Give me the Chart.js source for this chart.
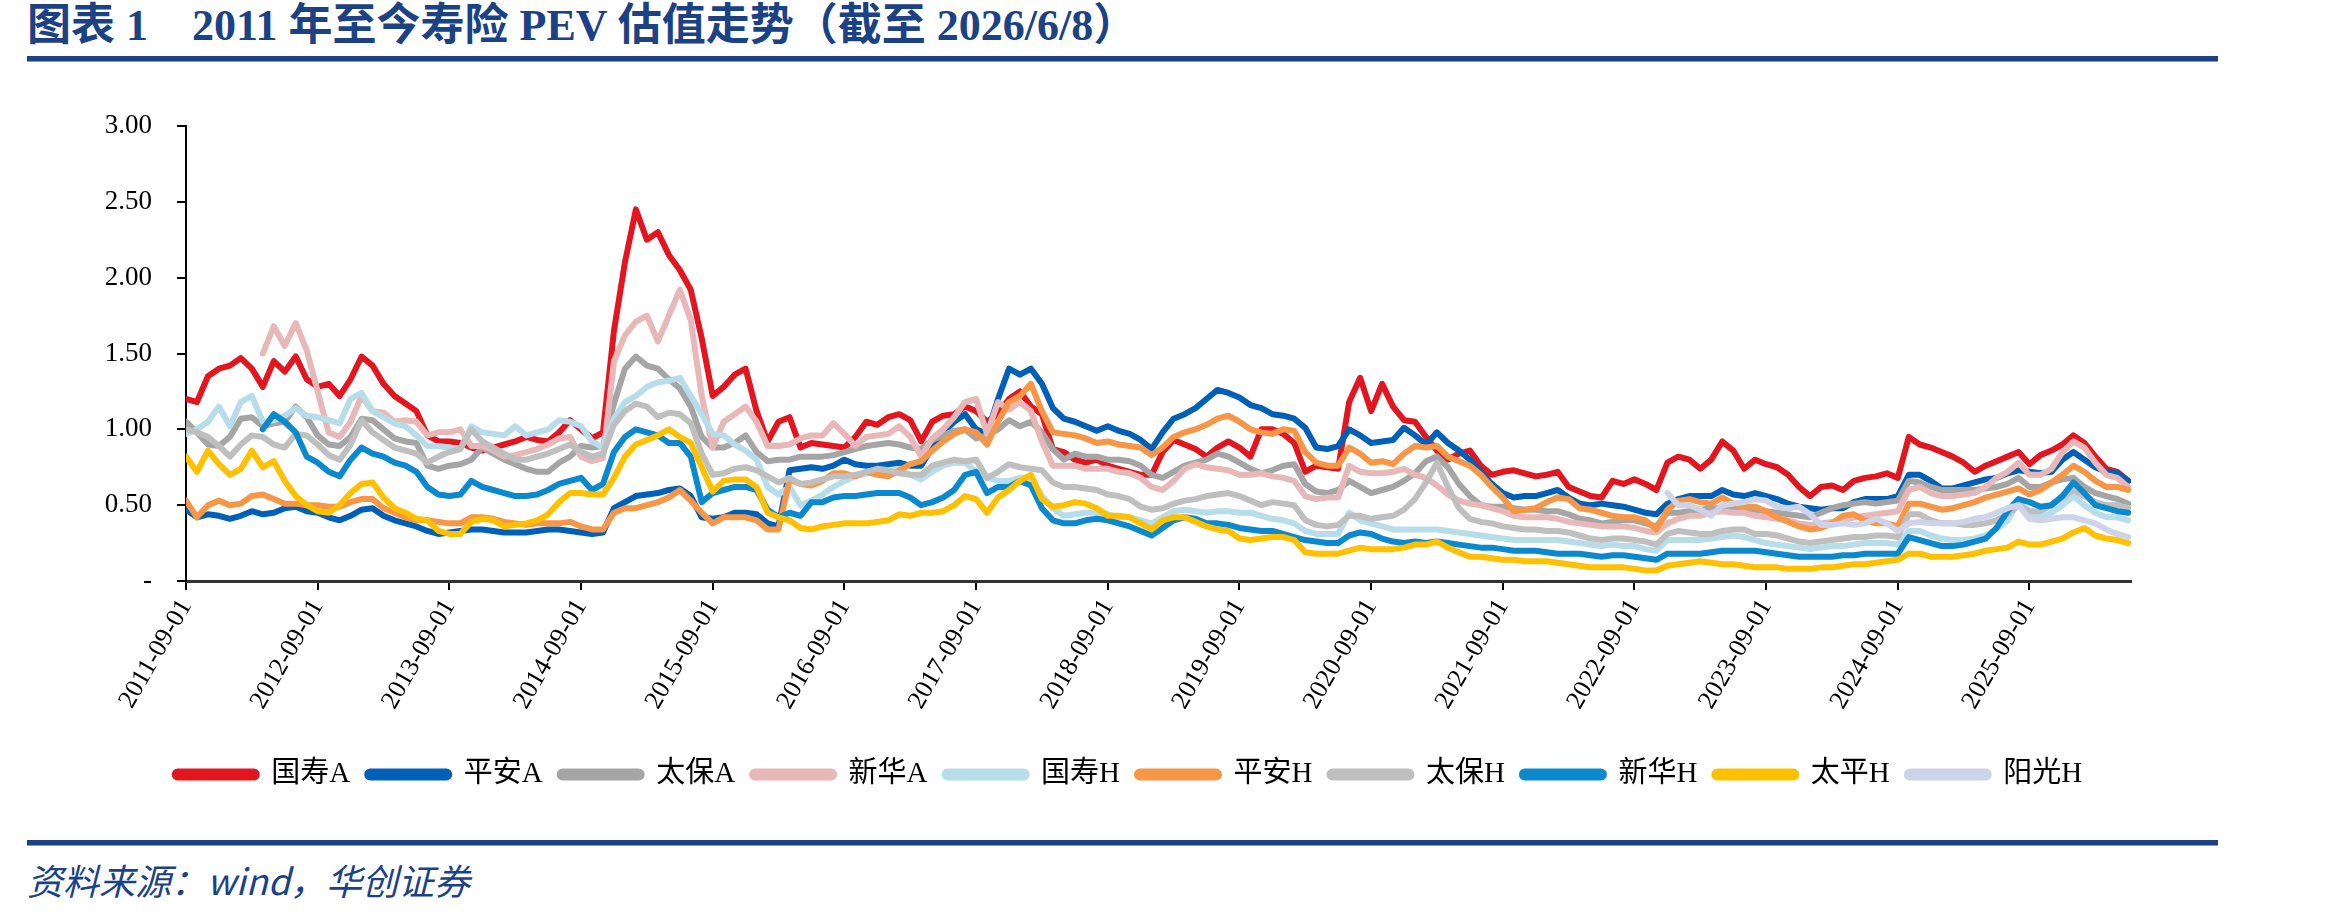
<!DOCTYPE html>
<html lang="zh-CN">
<head>
  <meta charset="UTF-8">
  <script src="https://cdn.jsdelivr.net/npm/chart.js@4.4.0/dist/chart.umd.min.js"></script>
  <style>
    body { margin: 0; background: #fff; width: 2327px; height: 913px; position: relative; overflow: hidden; }
    #title { position: absolute; left: 27px; top: 1px; line-height: 50px; font: bold 44px/50px "Liberation Serif", "Noto Sans CJK SC", serif; color: #1b4285; white-space: pre; }
    .rule { position: absolute; left: 27px; width: 2191px; height: 5px; background: #1b4285; border-bottom: 1px solid #7f9cc8; }
    #source { position: absolute; left: 27px; top: 858px; font: italic 36px/42px "Noto Sans CJK SC", sans-serif; color: #1b4285; }
    #box { position: absolute; left: 0; top: 70px; width: 2327px; height: 740px; }
  </style>
</head>
<body>
  <div id="title">图表 1    2011 年至今寿险 PEV 估值走势（截至 2026/6/8）</div>
  <div class="rule" style="top:56px"></div>
  <div id="box"><canvas id="pev"></canvas></div>
  <div class="rule" style="top:840px"></div>
  <div id="source">资料来源：wind，华创证券</div>
  <script>
    // monthly points, index 0 = 2011-09 ... 177 = 2026-06
    const xLabels = ['2011-09-01', '2012-09-01', '2013-09-01', '2014-09-01', '2015-09-01',
      '2016-09-01', '2017-09-01', '2018-09-01', '2019-09-01', '2020-09-01',
      '2021-09-01', '2022-09-01', '2023-09-01', '2024-09-01', '2025-09-01'];
    const yLabels = ['-', '0.50', '1.00', '1.50', '2.00', '2.50', '3.00'];
    const names = ['国寿A', '平安A', '太保A', '新华A', '国寿H', '平安H', '太保H', '新华H', '太平H', '阳光H'];
    const colors = ['#e3151f', '#0060b8', '#a5a5a5', '#e8b7b8', '#b6dde9', '#f79646', '#bfbfbf', '#0a89cf', '#ffc000', '#cdd3e8'];
    const starts = [0, 0, 0, 7, 0, 0, 0, 7, 0, 135];

    const gsA = [1.20, 1.18, 1.35, 1.40, 1.42, 1.47, 1.40, 1.28, 1.45, 1.38, 1.48, 1.33,
      1.28, 1.30, 1.22, 1.33, 1.48, 1.42, 1.30, 1.22, 1.17, 1.12, 0.96, 0.92,
      0.92, 0.91, 0.88, 0.86, 0.88, 0.90, 0.92, 0.95, 0.93, 0.92, 0.98, 1.06,
      1.00, 0.94, 0.98, 1.65, 2.10, 2.45, 2.25, 2.30, 2.15, 2.05, 1.92, 1.60,
      1.22, 1.28, 1.36, 1.40, 1.12, 0.92, 1.05, 1.08, 0.88, 0.91, 0.90, 0.89,
      0.88, 0.95, 1.05, 1.03, 1.08, 1.10, 1.06, 0.92, 1.05, 1.09, 1.10, 1.15,
      1.12, 1.05, 1.10, 1.20, 1.25, 1.15, 1.10, 0.87, 0.85, 0.80, 0.78, 0.80,
      0.76, 0.74, 0.72, 0.70, 0.70, 0.85, 0.93, 0.90, 0.87, 0.82, 0.88, 0.92,
      0.88, 0.82, 1.00, 1.00, 0.97, 0.91, 0.72, 0.76, 0.75, 0.74, 1.18, 1.34,
      1.12, 1.30, 1.15, 1.06, 1.05, 0.95, 0.86, 0.80, 0.84, 0.86, 0.76, 0.70,
      0.72, 0.73, 0.71, 0.69, 0.70, 0.72, 0.62, 0.59, 0.56, 0.55, 0.66, 0.64,
      0.67, 0.64, 0.60, 0.78, 0.82, 0.80, 0.74, 0.80, 0.92, 0.86, 0.74, 0.80,
      0.77, 0.75, 0.70, 0.62, 0.56, 0.62, 0.63, 0.60, 0.66, 0.68, 0.69, 0.71,
      0.68, 0.95, 0.90, 0.88, 0.85, 0.82, 0.78, 0.72, 0.76, 0.79, 0.82, 0.85,
      0.77, 0.83, 0.86, 0.90, 0.96, 0.91, 0.82, 0.74, 0.72, 0.66];
    const paA = [0.47, 0.42, 0.44, 0.43, 0.41, 0.43, 0.46, 0.44, 0.45, 0.48, 0.49, 0.46,
      0.45, 0.42, 0.40, 0.43, 0.47, 0.48, 0.43, 0.40, 0.38, 0.36, 0.33, 0.31,
      0.32, 0.33, 0.34, 0.34, 0.33, 0.32, 0.32, 0.32, 0.33, 0.34, 0.34, 0.33,
      0.32, 0.31, 0.32, 0.48, 0.52, 0.56, 0.57, 0.58, 0.60, 0.61, 0.56, 0.42,
      0.41, 0.42, 0.45, 0.45, 0.44, 0.38, 0.36, 0.73, 0.74, 0.75, 0.74, 0.76,
      0.80, 0.77, 0.76, 0.76, 0.77, 0.78, 0.76, 0.76, 0.88, 0.98, 1.05, 1.10,
      1.00, 0.97, 1.20, 1.40, 1.36, 1.40, 1.30, 1.14, 1.07, 1.05, 1.02, 0.99,
      1.02, 0.99, 0.97, 0.93, 0.87, 0.98, 1.07, 1.10, 1.14, 1.20, 1.26, 1.24,
      1.21, 1.16, 1.14, 1.10, 1.09, 1.07, 1.01, 0.88, 0.87, 0.89, 1.00, 0.96,
      0.91, 0.92, 0.93, 1.01, 0.96, 0.90, 0.98, 0.91, 0.86, 0.80, 0.72, 0.64,
      0.58, 0.55, 0.56, 0.56, 0.58, 0.60, 0.55, 0.51, 0.50, 0.51, 0.50, 0.49,
      0.47, 0.45, 0.44, 0.51, 0.54, 0.56, 0.56, 0.56, 0.60, 0.57, 0.56, 0.58,
      0.56, 0.54, 0.51, 0.49, 0.48, 0.47, 0.48, 0.48, 0.52, 0.54, 0.54, 0.54,
      0.56, 0.70, 0.70, 0.66, 0.61, 0.61, 0.63, 0.65, 0.67, 0.68, 0.71, 0.73,
      0.72, 0.71, 0.72, 0.80, 0.85, 0.80, 0.75, 0.72, 0.71, 0.66];
    const tbA = [1.05, 0.98, 0.90, 0.89, 0.95, 1.07, 1.08, 1.02, 1.04, 1.05, 1.15, 1.08,
      0.96, 0.90, 0.89, 0.95, 1.07, 1.06, 1.00, 0.94, 0.92, 0.91, 0.76, 0.74,
      0.76, 0.77, 0.80, 0.88, 0.84, 0.80, 0.77, 0.74, 0.72, 0.72, 0.78, 0.82,
      0.89, 0.88, 0.89, 1.17, 1.40, 1.48, 1.42, 1.40, 1.33, 1.27, 1.15, 0.95,
      0.88, 0.88, 0.91, 0.96, 0.85, 0.79, 0.80, 0.80, 0.82, 0.82, 0.82, 0.83,
      0.85, 0.87, 0.89, 0.90, 0.91, 0.90, 0.88, 0.87, 0.93, 0.96, 0.99, 1.00,
      0.94, 0.96, 1.00, 1.06, 1.02, 1.05, 0.98, 0.87, 0.80, 0.84, 0.82, 0.82,
      0.80, 0.80, 0.79, 0.76, 0.70, 0.68, 0.72, 0.76, 0.78, 0.80, 0.84, 0.82,
      0.78, 0.74, 0.71, 0.73, 0.76, 0.77, 0.64, 0.59, 0.58, 0.60, 0.66, 0.62,
      0.58, 0.60, 0.62, 0.66, 0.71, 0.79, 0.82, 0.75, 0.64, 0.56, 0.50, 0.49,
      0.49, 0.48, 0.47, 0.47, 0.46, 0.46, 0.44, 0.41, 0.40, 0.38, 0.39, 0.40,
      0.40, 0.38, 0.36, 0.45, 0.45, 0.46, 0.47, 0.48, 0.48, 0.47, 0.47, 0.47,
      0.46, 0.45, 0.44, 0.43, 0.42, 0.45, 0.48, 0.50, 0.51, 0.52, 0.51, 0.52,
      0.53, 0.66, 0.65, 0.62, 0.60, 0.60, 0.60, 0.60, 0.61, 0.62, 0.64, 0.68,
      0.62, 0.62, 0.65, 0.67, 0.68, 0.62, 0.58, 0.56, 0.54, 0.51];
    // 新华A starts 2012-04
    const xhA = [1.50, 1.68, 1.55, 1.70, 1.52,
      1.25, 0.98, 0.95, 1.05, 1.22, 1.12, 1.11, 1.05, 1.06, 1.05, 0.96, 0.98,
      0.98, 1.00, 0.89, 0.89, 0.86, 0.82, 0.83, 0.85, 0.87, 0.90, 0.94, 0.95,
      0.82, 0.79, 0.81, 1.45, 1.62, 1.71, 1.75, 1.58, 1.75, 1.92, 1.72, 1.22,
      0.88, 1.05, 1.10, 1.15, 1.05, 0.89, 0.89, 0.90, 0.94, 0.96, 0.96, 1.04,
      0.97, 0.89, 0.95, 0.96, 0.97, 1.02, 0.95, 0.82, 0.94, 1.00, 1.08, 1.18,
      1.20, 0.97, 1.18, 1.13, 1.18, 1.12, 0.92, 0.76, 0.76, 0.76, 0.74, 0.74,
      0.74, 0.72, 0.71, 0.68, 0.62, 0.60, 0.66, 0.74, 0.77, 0.75, 0.74, 0.73,
      0.70, 0.70, 0.71, 0.69, 0.68, 0.66, 0.56, 0.54, 0.55, 0.55, 0.76, 0.72,
      0.71, 0.71, 0.72, 0.74, 0.70, 0.68, 0.63, 0.57, 0.53, 0.51, 0.50, 0.48,
      0.46, 0.43, 0.42, 0.42, 0.42, 0.41, 0.39, 0.38, 0.37, 0.36, 0.36, 0.36,
      0.35, 0.33, 0.32, 0.38, 0.41, 0.43, 0.43, 0.45, 0.46, 0.45, 0.45, 0.43,
      0.42, 0.41, 0.40, 0.38, 0.37, 0.38, 0.39, 0.40, 0.42, 0.43, 0.44, 0.45,
      0.46, 0.60, 0.62, 0.58, 0.56, 0.56, 0.57, 0.58, 0.62, 0.68, 0.72, 0.78,
      0.70, 0.70, 0.74, 0.85, 0.92, 0.88, 0.78, 0.70, 0.68, 0.62];
    const gsH = [0.97, 1.00, 1.05, 1.15, 1.02, 1.18, 1.22, 1.05, 1.06, 1.09, 1.14, 1.09,
      1.08, 1.06, 1.04, 1.20, 1.24, 1.12, 1.08, 1.04, 1.02, 0.96, 0.89, 0.89,
      0.88, 0.87, 1.02, 0.98, 0.97, 0.96, 1.02, 0.96, 0.98, 1.00, 1.06, 1.05,
      1.02, 0.92, 0.88, 1.07, 1.18, 1.22, 1.28, 1.31, 1.32, 1.34, 1.22, 1.10,
      0.97, 0.96, 0.90, 0.86, 0.80, 0.62, 0.57, 0.62, 0.50, 0.53, 0.57, 0.62,
      0.66, 0.69, 0.71, 0.72, 0.72, 0.74, 0.70, 0.67, 0.72, 0.76, 0.78, 0.78,
      0.72, 0.68, 0.66, 0.66, 0.68, 0.68, 0.56, 0.48, 0.43, 0.44, 0.45, 0.45,
      0.44, 0.42, 0.42, 0.40, 0.38, 0.42, 0.46, 0.47, 0.46, 0.45, 0.46, 0.46,
      0.45, 0.45, 0.43, 0.41, 0.40, 0.38, 0.33, 0.31, 0.31, 0.31, 0.45, 0.40,
      0.38, 0.36, 0.34, 0.34, 0.34, 0.34, 0.34, 0.33, 0.32, 0.31, 0.30, 0.29,
      0.28, 0.27, 0.27, 0.27, 0.27, 0.27, 0.26, 0.25, 0.24, 0.23, 0.24, 0.23,
      0.23, 0.21, 0.20, 0.27, 0.27, 0.27, 0.27, 0.28, 0.29, 0.30, 0.29, 0.27,
      0.25, 0.24, 0.23, 0.22, 0.21, 0.22, 0.23, 0.23, 0.24, 0.25, 0.25, 0.25,
      0.24, 0.33, 0.33, 0.30, 0.28, 0.27, 0.27, 0.28, 0.30, 0.34, 0.40, 0.52,
      0.45, 0.42, 0.45, 0.50, 0.56, 0.50, 0.45, 0.42, 0.42, 0.40];
    const paH = [0.53, 0.42, 0.50, 0.53, 0.50, 0.51, 0.56, 0.57, 0.54, 0.51, 0.51, 0.50,
      0.50, 0.49, 0.49, 0.52, 0.54, 0.54, 0.48, 0.45, 0.42, 0.40, 0.40, 0.39,
      0.38, 0.38, 0.42, 0.42, 0.41, 0.39, 0.38, 0.37, 0.38, 0.38, 0.38, 0.39,
      0.36, 0.34, 0.34, 0.45, 0.48, 0.48, 0.50, 0.52, 0.55, 0.60, 0.53, 0.45,
      0.38, 0.42, 0.42, 0.42, 0.40, 0.34, 0.34, 0.67, 0.64, 0.63, 0.66, 0.71,
      0.71, 0.69, 0.72, 0.70, 0.69, 0.73, 0.77, 0.79, 0.86, 0.92, 0.97, 1.00,
      0.98, 0.90, 1.05, 1.18, 1.22, 1.30, 1.12, 0.98, 0.97, 0.96, 0.94, 0.91,
      0.92, 0.90, 0.89, 0.88, 0.83, 0.88, 0.95, 0.98, 1.00, 1.03, 1.07, 1.09,
      1.05, 1.00, 0.98, 0.97, 1.00, 0.99, 0.85, 0.78, 0.76, 0.76, 0.88, 0.84,
      0.78, 0.79, 0.77, 0.84, 0.89, 0.88, 0.89, 0.82, 0.79, 0.76, 0.70, 0.62,
      0.55, 0.46, 0.47, 0.48, 0.52, 0.55, 0.54, 0.48, 0.47, 0.45, 0.43, 0.42,
      0.42, 0.40, 0.34, 0.47, 0.53, 0.54, 0.52, 0.51, 0.55, 0.51, 0.49, 0.49,
      0.46, 0.42, 0.39, 0.36, 0.34, 0.35, 0.38, 0.43, 0.44, 0.40, 0.38, 0.38,
      0.36, 0.51, 0.51, 0.49, 0.47, 0.48, 0.50, 0.52, 0.55, 0.57, 0.59, 0.61,
      0.57, 0.60, 0.65, 0.70, 0.76, 0.72, 0.66, 0.62, 0.62, 0.60];
    const tbH = [1.00, 0.98, 0.95, 0.89, 0.82, 0.90, 0.96, 0.95, 0.90, 0.88, 0.97, 0.96,
      0.90, 0.83, 0.80, 0.90, 1.06, 0.98, 0.93, 0.88, 0.86, 0.84, 0.78, 0.82,
      0.85, 0.87, 1.00, 0.92, 0.88, 0.84, 0.80, 0.80, 0.82, 0.84, 0.87, 0.90,
      0.85, 0.82, 0.84, 1.03, 1.12, 1.17, 1.15, 1.08, 1.11, 1.10, 1.04, 0.84,
      0.70, 0.71, 0.74, 0.75, 0.73, 0.69, 0.65, 0.68, 0.64, 0.65, 0.67, 0.69,
      0.69, 0.70, 0.72, 0.74, 0.73, 0.71, 0.70, 0.70, 0.76, 0.78, 0.80, 0.79,
      0.80, 0.68, 0.72, 0.77, 0.75, 0.74, 0.73, 0.65, 0.62, 0.62, 0.61, 0.60,
      0.57, 0.56, 0.54, 0.49, 0.47, 0.48, 0.51, 0.53, 0.54, 0.56, 0.57, 0.58,
      0.56, 0.53, 0.50, 0.52, 0.51, 0.50, 0.40, 0.37, 0.36, 0.37, 0.43, 0.43,
      0.41, 0.42, 0.43, 0.47, 0.54, 0.65, 0.78, 0.62, 0.48, 0.41, 0.39, 0.38,
      0.36, 0.35, 0.34, 0.34, 0.33, 0.33, 0.32, 0.30, 0.28, 0.27, 0.28, 0.28,
      0.27, 0.26, 0.24, 0.31, 0.33, 0.32, 0.31, 0.31, 0.33, 0.34, 0.34, 0.31,
      0.31, 0.30, 0.28, 0.26, 0.25, 0.26, 0.27, 0.28, 0.29, 0.29, 0.30, 0.30,
      0.29, 0.44, 0.44, 0.40, 0.38, 0.38, 0.37, 0.37, 0.38, 0.40, 0.44, 0.50,
      0.46, 0.46, 0.50, 0.55, 0.60, 0.56, 0.52, 0.50, 0.50, 0.48];
    // 新华H starts 2012-04
    const xhH = [1.00, 1.10, 1.05, 0.98, 0.82,
      0.78, 0.72, 0.69, 0.80, 0.88, 0.84, 0.82, 0.78, 0.76, 0.72, 0.62, 0.57,
      0.56, 0.57, 0.66, 0.62, 0.60, 0.58, 0.56, 0.56, 0.57, 0.60, 0.64, 0.66,
      0.68, 0.60, 0.64, 0.85, 0.95, 1.00, 0.98, 0.96, 0.91, 0.91, 0.82, 0.52,
      0.58, 0.60, 0.62, 0.62, 0.60, 0.47, 0.42, 0.45, 0.43, 0.52, 0.52, 0.55,
      0.56, 0.56, 0.57, 0.58, 0.58, 0.58, 0.55, 0.50, 0.52, 0.55, 0.60, 0.70,
      0.72, 0.58, 0.62, 0.62, 0.66, 0.63, 0.48, 0.40, 0.38, 0.38, 0.40, 0.41,
      0.40, 0.38, 0.36, 0.33, 0.30, 0.35, 0.40, 0.42, 0.41, 0.38, 0.38, 0.37,
      0.35, 0.34, 0.33, 0.33, 0.31, 0.29, 0.27, 0.26, 0.25, 0.25, 0.30, 0.32,
      0.31, 0.28, 0.26, 0.25, 0.26, 0.25, 0.26, 0.25, 0.24, 0.23, 0.22, 0.22,
      0.21, 0.20, 0.20, 0.20, 0.19, 0.18, 0.18, 0.18, 0.17, 0.16, 0.17, 0.17,
      0.16, 0.15, 0.14, 0.18, 0.18, 0.18, 0.18, 0.19, 0.20, 0.20, 0.20, 0.20,
      0.19, 0.18, 0.17, 0.16, 0.16, 0.16, 0.16, 0.17, 0.17, 0.18, 0.18, 0.18,
      0.18, 0.29, 0.27, 0.25, 0.23, 0.23, 0.24, 0.26, 0.28, 0.35, 0.46, 0.54,
      0.52, 0.49, 0.50, 0.56, 0.65, 0.58, 0.50, 0.48, 0.46, 0.45];
    const tpH = [0.82, 0.72, 0.86, 0.77, 0.70, 0.74, 0.86, 0.75, 0.79, 0.66, 0.56, 0.50,
      0.46, 0.45, 0.50, 0.58, 0.64, 0.65, 0.55, 0.48, 0.45, 0.41, 0.40, 0.33,
      0.31, 0.31, 0.39, 0.41, 0.40, 0.36, 0.37, 0.38, 0.40, 0.44, 0.52, 0.58,
      0.58, 0.57, 0.57, 0.68, 0.82, 0.90, 0.93, 0.96, 1.00, 0.95, 0.91, 0.75,
      0.59, 0.66, 0.67, 0.67, 0.62, 0.45, 0.42, 0.40, 0.35, 0.34, 0.36, 0.37,
      0.38, 0.38, 0.38, 0.39, 0.40, 0.44, 0.43, 0.45, 0.45, 0.46, 0.50, 0.56,
      0.54, 0.45, 0.55, 0.60, 0.66, 0.70, 0.54, 0.49, 0.50, 0.52, 0.51, 0.48,
      0.43, 0.43, 0.42, 0.38, 0.34, 0.40, 0.42, 0.42, 0.39, 0.36, 0.34, 0.33,
      0.28, 0.27, 0.28, 0.29, 0.29, 0.27, 0.19, 0.18, 0.18, 0.18, 0.20, 0.22,
      0.21, 0.21, 0.21, 0.22, 0.24, 0.24, 0.26, 0.22, 0.19, 0.16, 0.16, 0.15,
      0.14, 0.14, 0.13, 0.13, 0.13, 0.12, 0.11, 0.10, 0.09, 0.09, 0.09, 0.09,
      0.08, 0.07, 0.07, 0.10, 0.11, 0.12, 0.13, 0.12, 0.11, 0.11, 0.10, 0.09,
      0.09, 0.09, 0.08, 0.08, 0.08, 0.09, 0.09, 0.10, 0.11, 0.11, 0.12, 0.13,
      0.14, 0.18, 0.18, 0.16, 0.16, 0.16, 0.17, 0.18, 0.20, 0.21, 0.22, 0.26,
      0.24, 0.24, 0.26, 0.28, 0.32, 0.35, 0.30, 0.28, 0.27, 0.25];
    // 阳光H starts 2022-12
    const ygH = [0.58, 0.50, 0.50, 0.47, 0.43, 0.50, 0.51, 0.52, 0.54,
      0.53, 0.49, 0.48, 0.49, 0.44, 0.37, 0.37, 0.38, 0.37, 0.38, 0.41, 0.38,
      0.33, 0.38, 0.39, 0.38, 0.38, 0.38, 0.39, 0.41, 0.42, 0.45, 0.48, 0.50,
      0.41, 0.40, 0.41, 0.42, 0.42, 0.40, 0.38, 0.34, 0.31, 0.29];

    const series = [gsA, paA, tbA, xhA, gsH, paH, tbH, xhH, tpH, ygH];
    const serif = '"Liberation Serif", "Noto Sans CJK SC", serif';

    const datasets = series.map((vals, i) => ({
      label: names[i],
      data: vals.map((v, j) => ({ x: starts[i] + j, y: v })),
      borderColor: colors[i],
      backgroundColor: colors[i],
      borderWidth: 6,
      borderJoinStyle: 'round',
      borderCapStyle: 'round',
      pointRadius: 0,
      fill: false,
      tension: 0,
      order: series.length - i   // later series drawn on top, like the original
    }));

    new Chart(document.getElementById('pev'), {
      type: 'line',
      data: { datasets: datasets },
      options: {
        responsive: true,
        maintainAspectRatio: false,
        animation: false,
        devicePixelRatio: 1,
        layout: { padding: { top: 56, left: 0, right: 70, bottom: 11 } },
        scales: {
          x: {
            type: 'linear',
            min: 0,
            max: 177.25,
            afterFit: (s) => { s.height = 162; },
            border: { color: '#333', width: 3 },
            grid: { drawOnChartArea: false, drawTicks: true, tickLength: 9, color: '#000', lineWidth: 2 },
            ticks: {
              stepSize: 12,
              includeBounds: false,
              autoSkip: false,
              maxRotation: 60,
              minRotation: 60,
              padding: 4,
              color: '#000',
              font: { family: serif, size: 26 },
              callback: (v) => (v % 12 === 0 ? xLabels[v / 12] : undefined)
            }
          },
          y: {
            min: 0,
            max: 3,
            afterFit: (s) => { s.width = 186; },
            border: { color: '#000', width: 2 },
            grid: { drawOnChartArea: false, drawTicks: true, tickLength: 9, color: '#000', lineWidth: 2 },
            ticks: {
              stepSize: 0.5,
              padding: 25,
              color: '#000',
              font: { family: serif, size: 27 },
              callback: (v) => yLabels[Math.round(v * 2)]
            }
          },
          // empty right-hand spacer so the legend can be centred on the page like the original
          spacer: {
            type: 'linear',
            position: 'right',
            display: true,
            afterFit: (s) => { s.width = 126; },
            border: { display: false },
            grid: { display: false },
            ticks: { display: false }
          }
        },
        plugins: {
          legend: {
            position: 'bottom',
            labels: {
              boxWidth: 82,
              boxHeight: 6,
              padding: 17,
              useBorderRadius: true,
              borderRadius: 3,
              color: '#000',
              font: { family: serif, size: 29 },
              sort: (a, b) => a.datasetIndex - b.datasetIndex
            }
          },
          tooltip: { enabled: false }
        }
      }
    });
  </script>
</body>
</html>
